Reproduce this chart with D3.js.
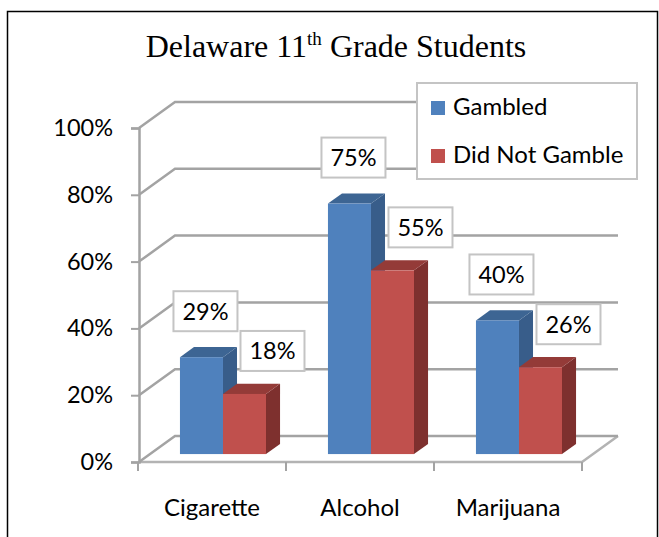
<!DOCTYPE html>
<html>
<head>
<meta charset="utf-8">
<script src="https://cdn.jsdelivr.net/npm/d3@7"></script>
<style>
  body { margin: 0; background: #fff; }
  svg text { font-family: Lato, "Noto Sans", sans-serif; fill: #000; }
  .title { font-family: "Liberation Serif", "Times New Roman", serif; }
</style>
</head>
<body>
<div id="chart"></div>
<script>
var categories = ["Cigarette", "Alcohol", "Marijuana"];
var series = ["Gambled", "Did Not Gamble"];
var gambled = [0.29, 0.75, 0.40];
var notGambled = [0.18, 0.55, 0.26];
var yTicks = [0, 0.2, 0.4, 0.6, 0.8, 1.0];

var colors = {
    "Gambled": {front: "#4f81bd", side: "#385d8a", top: "#3d6593"},
    "Did Not Gamble": {front: "#c0504d", side: "#7e302e", top: "#943b38"}
};

var W = 659, H = 537;
var svg = d3.select("#chart").append("svg")
    .attr("width", W)
    .attr("height", H);

// outer frame
svg.append("rect")
    .attr("x", 7.5).attr("y", 11.5)
    .attr("width", 650).attr("height", 600)
    .attr("fill", "none")
    .attr("stroke", "#000")
    .attr("stroke-width", 1.5);

// title with superscript
var title = svg.append("text")
    .attr("class", "title")
    .attr("x", 336).attr("y", 57)
    .attr("text-anchor", "middle")
    .style("font-size", "32px");
title.append("tspan").text("Delaware 11");
title.append("tspan").attr("dy", -12).style("font-size", "19px").text("th");
title.append("tspan").attr("dy", 12).text(" Grade Students");

// 3d projection: depth offset of the whole floor
var depth = {dx: 36, dy: -26};
var tFront = 0.305, tBack = 0.695;

var x0 = d3.scaleBand()
    .domain(categories)
    .range([138, 582]);

var x1 = d3.scaleBand()
    .domain(series)
    .range([0, x0.bandwidth()])
    .paddingOuter(0.72);

var y = d3.scaleLinear()
    .domain([0, 1])
    .range([462, 128]);

var gridColor = "#a3a3a3";
var axisLeft = 139, backRight = 618;

// floor front edge + right edge
svg.append("path")
    .attr("d", "M" + axisLeft + "," + y(0) + "L" + x0.range()[1] + "," + y(0) +
        "L" + (x0.range()[1] + depth.dx) + "," + (y(0) + depth.dy))
    .attr("fill", "none")
    .attr("stroke", "#b3b3b3")
    .attr("stroke-width", 2.5);

// gridlines on side and back walls
svg.selectAll("path.grid")
    .data(yTicks)
    .enter().append("path")
    .attr("class", "grid")
    .attr("d", function(d){
        return "M" + axisLeft + "," + y(d) +
            "L" + (axisLeft + depth.dx) + "," + (y(d) + depth.dy) +
            "L" + backRight + "," + (y(d) + depth.dy);
    })
    .attr("fill", "none")
    .attr("stroke", gridColor)
    .attr("stroke-width", 2.5);

// vertical axis
var yAxis = d3.axisLeft(y)
    .tickValues(yTicks)
    .tickSize(8)
    .tickPadding(18)
    .tickFormat(d3.format(".0%"));

var gy = svg.append("g")
    .attr("transform", "translate(" + axisLeft + ",0)")
    .call(yAxis);
gy.select(".domain").attr("stroke", gridColor).attr("stroke-width", 2.5);
gy.selectAll(".tick line").attr("stroke", gridColor).attr("stroke-width", 2);
gy.selectAll(".tick text").style("font-size", "23.5px").attr("fill", "#000");

// category axis
var xAxis = d3.axisBottom(x0)
    .tickSize(0)
    .tickPadding(37);

var gx = svg.append("g")
    .attr("transform", "translate(0," + y(0) + ")")
    .call(xAxis);
gx.select(".domain").remove();
gx.selectAll(".tick text").style("font-size", "24px").attr("fill", "#000");

// category separator ticks
var bounds = categories.map(function(c){ return x0(c); }).concat([x0.range()[1]]);
svg.selectAll("line.ctick")
    .data(bounds)
    .enter().append("line")
    .attr("class", "ctick")
    .attr("x1", function(d){ return d; })
    .attr("x2", function(d){ return d; })
    .attr("y1", y(0))
    .attr("y2", y(0) + 9)
    .attr("stroke", gridColor)
    .attr("stroke-width", 2);

// bars
var bars = [];
categories.forEach(function(c, i){
    bars.push({cat: c, s: "Gambled", v: gambled[i]});
    bars.push({cat: c, s: "Did Not Gamble", v: notGambled[i]});
});

function geom(d){
    var xl = x0(d.cat) + x1(d.s) + tFront * depth.dx;
    var xr = xl + x1.bandwidth();
    var yb = y(0) + tFront * depth.dy;
    var yt = y(d.v) + tFront * depth.dy;
    var ddx = (tBack - tFront) * depth.dx, ddy = (tBack - tFront) * depth.dy;
    return {xl: xl, xr: xr, yb: yb, yt: yt, ddx: ddx, ddy: ddy};
}

var bg = svg.selectAll("g.bar")
    .data(bars)
    .enter().append("g")
    .attr("class", "bar");

bg.append("path")
    .attr("d", function(d){
        var g = geom(d);
        return "M" + g.xr + "," + g.yb + "L" + (g.xr + g.ddx) + "," + (g.yb + g.ddy) +
            "L" + (g.xr + g.ddx) + "," + (g.yt + g.ddy) + "L" + g.xr + "," + g.yt + "Z";
    })
    .attr("fill", function(d){ return colors[d.s].side; });

bg.append("path")
    .attr("d", function(d){
        var g = geom(d);
        return "M" + g.xl + "," + g.yt + "L" + (g.xl + g.ddx) + "," + (g.yt + g.ddy) +
            "L" + (g.xr + g.ddx) + "," + (g.yt + g.ddy) + "L" + g.xr + "," + g.yt + "Z";
    })
    .attr("fill", function(d){ return colors[d.s].top; });

bg.append("rect")
    .attr("x", function(d){ return geom(d).xl; })
    .attr("y", function(d){ return geom(d).yt; })
    .attr("width", x1.bandwidth())
    .attr("height", function(d){ var g = geom(d); return g.yb - g.yt; })
    .attr("fill", function(d){ return colors[d.s].front; });

// data labels
var labelShift = {"Gambled": {dx: 4, dy: -46}, "Did Not Gamble": {dx: 28, dy: -43}};
var lg = svg.selectAll("g.dlabel")
    .data(bars)
    .enter().append("g")
    .attr("class", "dlabel")
    .attr("transform", function(d){
        var g = geom(d);
        var cx = (g.xl + g.xr) / 2 + labelShift[d.s].dx;
        var cy = g.yt + labelShift[d.s].dy;
        return "translate(" + cx + "," + cy + ")";
    });

lg.append("rect")
    .attr("x", -32).attr("y", -20)
    .attr("width", 64).attr("height", 40)
    .attr("fill", "#fff")
    .attr("stroke", "#c4c4c4")
    .attr("stroke-width", 2);

lg.append("text")
    .attr("text-anchor", "middle")
    .attr("dy", "0.36em")
    .style("font-size", "23.5px")
    .text(function(d){ return d3.format(".0%")(d.v); });

// legend
var legend = svg.append("g").attr("transform", "translate(417,83)");
legend.append("rect")
    .attr("width", 220).attr("height", 96)
    .attr("fill", "#fff")
    .attr("stroke", "#c4c4c4")
    .attr("stroke-width", 2);

var li = legend.selectAll("g.item")
    .data(series)
    .enter().append("g")
    .attr("class", "item")
    .attr("transform", function(d, i){ return "translate(14," + (18 + i * 48) + ")"; });

li.append("rect")
    .attr("width", 14).attr("height", 14)
    .attr("fill", function(d){ return colors[d].front; });

li.append("text")
    .attr("x", 22).attr("y", 14)
    .style("font-size", "24px")
    .text(function(d){ return d; });
</script>
</body>
</html>
